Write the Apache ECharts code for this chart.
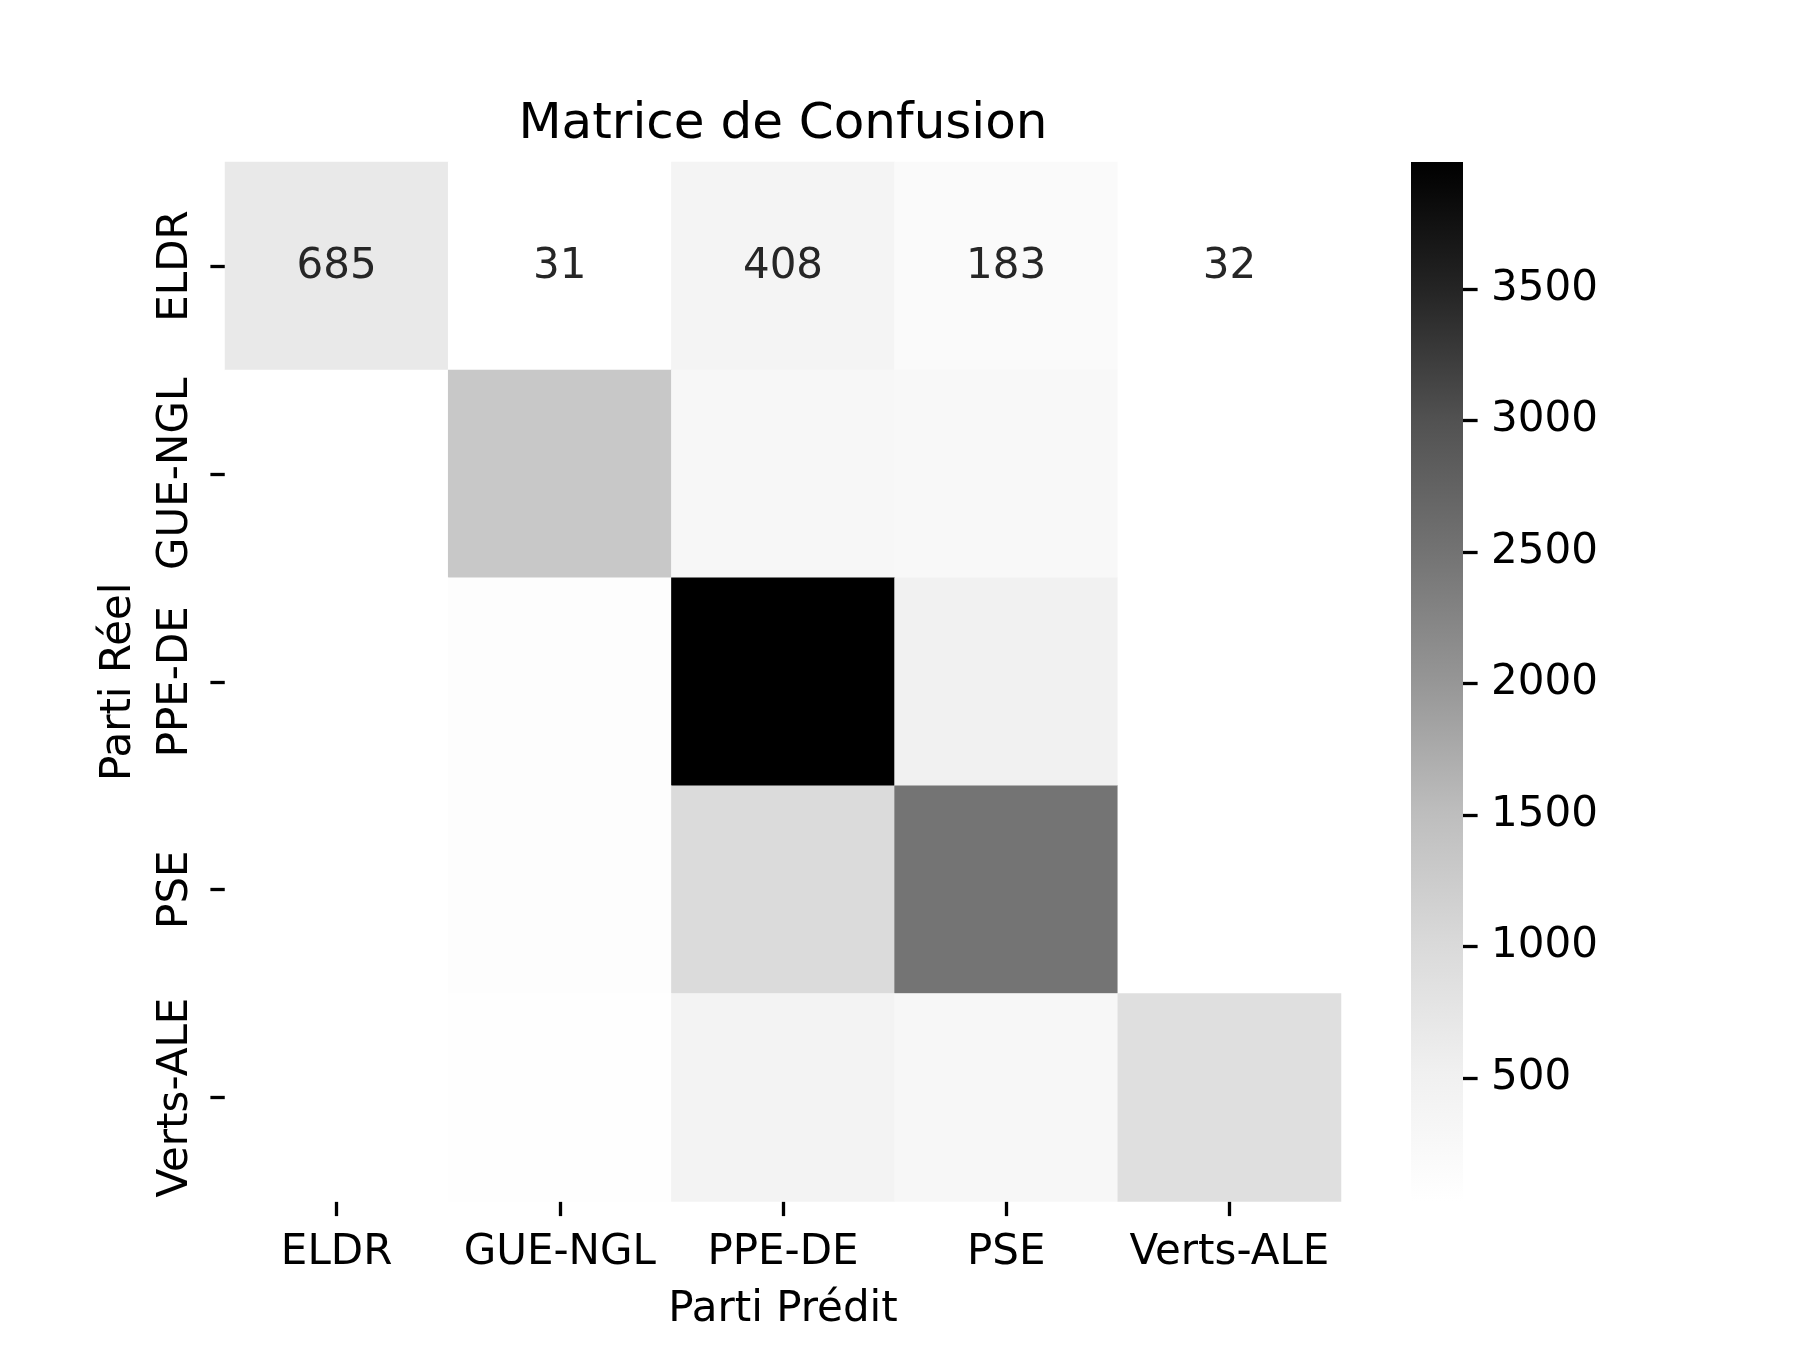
<!DOCTYPE html>
<html>
<head>
<meta charset="utf-8">
<script src="https://cdn.jsdelivr.net/npm/echarts@6/dist/echarts.min.js"></script>
<style>
  html, body { margin: 0; padding: 0; background: #fff; }
  #confusion { width: 1800px; height: 1350px; }
</style>
</head>
<body>
<div id="confusion"></div>
<script>
// partis (lignes = réel, colonnes = prédit)
var parties = ['ELDR', 'GUE-NGL', 'PPE-DE', 'PSE', 'Verts-ALE'];
var row_eldr  = [685, 31, 408, 183, 32];
var row_gue   = [33, 1319, 287, 260, 35];
var row_ppe   = [36, 100, 3982, 492, 45];
var row_pse   = [34, 110, 975, 2485, 42];
var row_verts = [38, 60, 426, 294, 889];
var cbar_ticks = [500, 1000, 1500, 2000, 2500, 3000, 3500];

// matplotlib "Greys"
var greys = ['#ffffff', '#f0f0f0', '#d9d9d9', '#bdbdbd', '#969696', '#737373', '#525252', '#252525', '#000000'];

var rows = [row_eldr, row_gue, row_ppe, row_pse, row_verts];
var cells = [];
var vmin = Infinity, vmax = -Infinity;
rows.forEach(function (r, i) {
    r.forEach(function (v, j) {
        vmin = Math.min(vmin, v);
        vmax = Math.max(vmax, v);
        // seul la premiere ligne est annotee
        cells.push({ value: [j, i, v], label: { show: i === 0 } });
    });
});

var font = 'DejaVu Sans';
var gradStops = greys.slice().reverse().map(function (c, k) {
    return { offset: k / (greys.length - 1), color: c };
});

var confusion = echarts.init(document.getElementById('confusion'));
var option = {
    backgroundColor: '#fff',
    animation: false,
    title: {
        text: 'Matrice de Confusion',
        left: 783,
        top: 100,
        padding: 0,
        textAlign: 'center',
        textStyle: { fontFamily: font, fontSize: 50, fontWeight: 'normal', color: '#000' }
    },
    grid: [
        { left: 225, top: 162, width: 1116, height: 1039.5 },
        { left: 1411, top: 162, width: 52, height: 1039.5 }
    ],
    xAxis: [
        {
            type: 'category',
            gridIndex: 0,
            data: parties,
            position: 'bottom',
            axisLine: { show: false },
            axisTick: { show: true, alignWithLabel: true, interval: 0, length: 14.6, lineStyle: { color: '#000', width: 3.3 } },
            axisLabel: { interval: 0, margin: 31, fontFamily: font, fontSize: 42, color: '#000' },
            splitLine: { show: false },
            name: 'Parti Prédit',
            nameLocation: 'middle',
            nameGap: 88,
            nameTextStyle: { fontFamily: font, fontSize: 42, color: '#000' }
        },
        {
            type: 'category',
            gridIndex: 1,
            data: ['cbar'],
            show: false
        }
    ],
    yAxis: [
        {
            type: 'category',
            gridIndex: 0,
            data: parties,
            inverse: true,
            axisLine: { show: false },
            axisTick: { show: true, alignWithLabel: true, interval: 0, length: 14.6, lineStyle: { color: '#000', width: 3.3 } },
            axisLabel: { interval: 0, rotate: 90, margin: 28, fontFamily: font, fontSize: 42, color: '#000' },
            splitLine: { show: false },
            name: 'Parti Réel',
            nameLocation: 'middle',
            nameRotate: 90,
            nameGap: 85,
            nameTextStyle: { fontFamily: font, fontSize: 42, color: '#000' }
        },
        {
            type: 'value',
            gridIndex: 1,
            position: 'right',
            min: vmin,
            max: vmax,
            axisLine: { show: false },
            axisTick: { show: true, customValues: cbar_ticks, length: 14.6, lineStyle: { color: '#000', width: 3.3 } },
            axisLabel: {
                customValues: cbar_ticks,
                margin: 28,
                formatter: function (v) { return String(v); },
                fontFamily: font,
                fontSize: 42,
                color: '#000'
            },
            splitLine: { show: false }
        }
    ],
    visualMap: {
        type: 'continuous',
        show: false,
        seriesIndex: 0,
        dimension: 2,
        min: vmin,
        max: vmax,
        inRange: { color: greys }
    },
    series: [
        {
            type: 'heatmap',
            xAxisIndex: 0,
            yAxisIndex: 0,
            data: cells,
            itemStyle: { borderWidth: 0 },
            label: {
                show: false,
                offset: [0, 1],
                fontFamily: font,
                fontSize: 42,
                color: '#262626'
            },
            emphasis: { disabled: true }
        },
        {
            type: 'bar',
            xAxisIndex: 1,
            yAxisIndex: 1,
            data: [vmax],
            barWidth: '100%',
            itemStyle: {
                color: new echarts.graphic.LinearGradient(0, 0, 0, 1, gradStops)
            },
            silent: true
        }
    ]
};
confusion.setOption(option);
</script>
</body>
</html>
